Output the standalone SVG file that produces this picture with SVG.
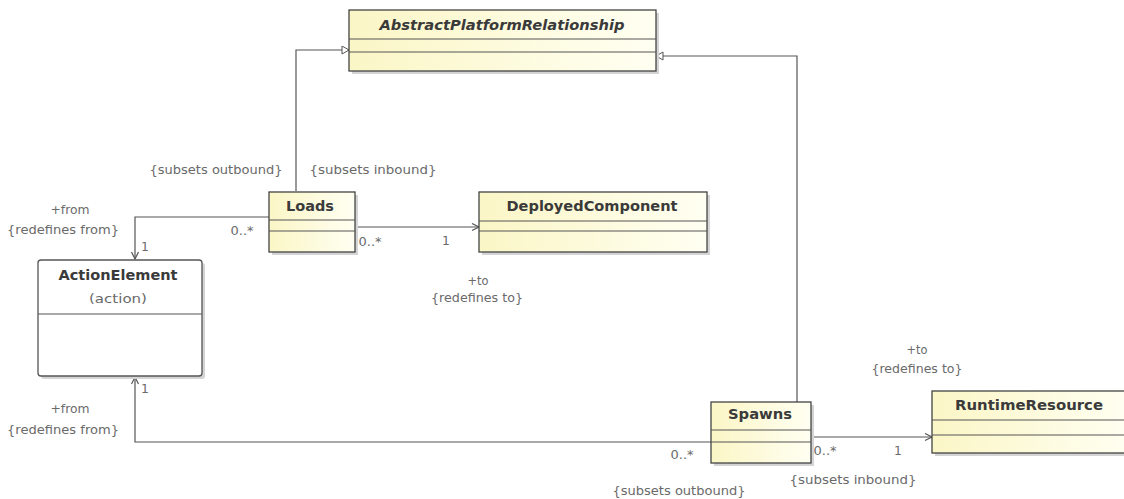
<svg xmlns="http://www.w3.org/2000/svg" width="1124" height="499" viewBox="0 0 1124 499">
<defs>
<linearGradient id="yl" x1="0" y1="0" x2="1" y2="0">
<stop offset="0" stop-color="#fbf6c6"/>
<stop offset="1" stop-color="#fffff2"/>
</linearGradient>
<marker id="open" markerWidth="10" markerHeight="10" refX="8" refY="4" orient="auto" markerUnits="userSpaceOnUse">
<path d="M1,0.5 L8,4 L1,7.5" fill="none" stroke="#555" stroke-width="1.2"/>
</marker>
<marker id="gen" markerWidth="12" markerHeight="12" refX="8" refY="4.5" orient="auto" markerUnits="userSpaceOnUse">
<path d="M1,0.5 L8,4.5 L1,8.5 Z" fill="#fff" stroke="#555" stroke-width="1"/>
</marker>
</defs>
<style>
.box{fill:url(#yl);stroke:#444;stroke-width:1.3}
.wbox{fill:#fff;stroke:#555;stroke-width:1.3}
.sh{fill:#d4d4d4;stroke:none}
.div{stroke:#555;stroke-width:1}
.name{font-family:"DejaVu Sans","Liberation Sans",sans-serif;font-size:14.5px;font-weight:bold;fill:#3a3a3a;text-anchor:middle}
.lbl{font-family:"DejaVu Sans","Liberation Sans",sans-serif;font-size:12.3px;fill:#6a6a6a;text-anchor:middle}
.con{fill:none;stroke:#555;stroke-width:1.2}
</style>
<rect width="1124" height="499" fill="#fff"/>
<g id="connectors">
<path class="con" d="M296,191 L296,50 L349,50" marker-end="url(#gen)"/>
<path class="con" d="M797,402 L797,56 L656,56" marker-end="url(#gen)"/>
<path class="con" d="M269,217 L135,217 L135,259" marker-end="url(#open)"/>
<path class="con" d="M355,227 L479,227" marker-end="url(#open)"/>
<path class="con" d="M711,442 L135,442 L135,377" marker-end="url(#open)"/>
<path class="con" d="M811,437 L932,437" marker-end="url(#open)"/>
<text class="lbl" x="216" y="174" textLength="133" lengthAdjust="spacingAndGlyphs">{subsets outbound}</text>
<text class="lbl" x="373" y="174" textLength="127" lengthAdjust="spacingAndGlyphs">{subsets inbound}</text>
<text class="lbl" x="70" y="214" textLength="39" lengthAdjust="spacingAndGlyphs">+from</text>
<text class="lbl" x="63" y="234" textLength="112" lengthAdjust="spacingAndGlyphs">{redefines from}</text>
<text class="lbl" x="145" y="251">1</text>
<text class="lbl" x="242" y="235" textLength="23" lengthAdjust="spacingAndGlyphs">0..*</text>
<text class="lbl" x="370" y="246" textLength="23" lengthAdjust="spacingAndGlyphs">0..*</text>
<text class="lbl" x="446" y="245">1</text>
<text class="lbl" x="478" y="285" textLength="21" lengthAdjust="spacingAndGlyphs">+to</text>
<text class="lbl" x="477" y="302" textLength="92" lengthAdjust="spacingAndGlyphs">{redefines to}</text>
<text class="lbl" x="145" y="393">1</text>
<text class="lbl" x="70" y="413" textLength="39" lengthAdjust="spacingAndGlyphs">+from</text>
<text class="lbl" x="63" y="434" textLength="112" lengthAdjust="spacingAndGlyphs">{redefines from}</text>
<text class="lbl" x="682" y="459" textLength="23" lengthAdjust="spacingAndGlyphs">0..*</text>
<text class="lbl" x="679" y="495" textLength="133" lengthAdjust="spacingAndGlyphs">{subsets outbound}</text>
<text class="lbl" x="825" y="455" textLength="23" lengthAdjust="spacingAndGlyphs">0..*</text>
<text class="lbl" x="898" y="455">1</text>
<text class="lbl" x="853" y="484" textLength="127" lengthAdjust="spacingAndGlyphs">{subsets inbound}</text>
<text class="lbl" x="917" y="354" textLength="21" lengthAdjust="spacingAndGlyphs">+to</text>
<text class="lbl" x="917" y="373" textLength="91" lengthAdjust="spacingAndGlyphs">{redefines to}</text>
</g>
<g id="AbstractPlatformRelationship">
<rect class="sh" x="352" y="13" width="307" height="61"/>
<rect class="box" x="349" y="10" width="307" height="61"/>
<line class="div" x1="349" y1="39" x2="656" y2="39"/>
<line class="div" x1="349" y1="52" x2="656" y2="52"/>
<text class="name" x="502" y="30" font-style="italic" textLength="245" lengthAdjust="spacingAndGlyphs">AbstractPlatformRelationship</text>
</g>
<g id="Loads">
<rect class="sh" x="272" y="195" width="86" height="60"/>
<rect class="box" x="269" y="192" width="86" height="60"/>
<line class="div" x1="269" y1="220" x2="355" y2="220"/>
<line class="div" x1="269" y1="231" x2="355" y2="231"/>
<text class="name" x="310" y="211" textLength="48" lengthAdjust="spacingAndGlyphs">Loads</text>
</g>
<g id="DeployedComponent">
<rect class="sh" x="482" y="195" width="228" height="60"/>
<rect class="box" x="479" y="192" width="228" height="60"/>
<line class="div" x1="479" y1="221" x2="707" y2="221"/>
<line class="div" x1="479" y1="231" x2="707" y2="231"/>
<text class="name" x="592" y="211" textLength="171" lengthAdjust="spacingAndGlyphs">DeployedComponent</text>
</g>
<g id="ActionElement">
<rect class="sh" x="41" y="263" width="164" height="116" rx="3"/>
<rect class="wbox" x="38" y="260" width="164" height="116" rx="3"/>
<line class="div" x1="38" y1="314" x2="202" y2="314"/>
<text class="name" x="118" y="280" textLength="119" lengthAdjust="spacingAndGlyphs">ActionElement</text>
<text class="lbl" x="118" y="303" style="font-size:13px" textLength="58" lengthAdjust="spacingAndGlyphs">(action)</text>
</g>
<g id="Spawns">
<rect class="sh" x="714" y="405" width="100" height="61"/>
<rect class="box" x="711" y="402" width="100" height="61"/>
<line class="div" x1="711" y1="430" x2="811" y2="430"/>
<line class="div" x1="711" y1="442" x2="811" y2="442"/>
<text class="name" x="760" y="419" textLength="64" lengthAdjust="spacingAndGlyphs">Spawns</text>
</g>
<g id="RuntimeResource">
<rect class="sh" x="935" y="394" width="200" height="62"/>
<rect class="box" x="932" y="391" width="200" height="62"/>
<line class="div" x1="932" y1="420" x2="1124" y2="420"/>
<line class="div" x1="932" y1="435" x2="1124" y2="435"/>
<text class="name" x="1029" y="410" textLength="148" lengthAdjust="spacingAndGlyphs">RuntimeResource</text>
</g>
</svg>
